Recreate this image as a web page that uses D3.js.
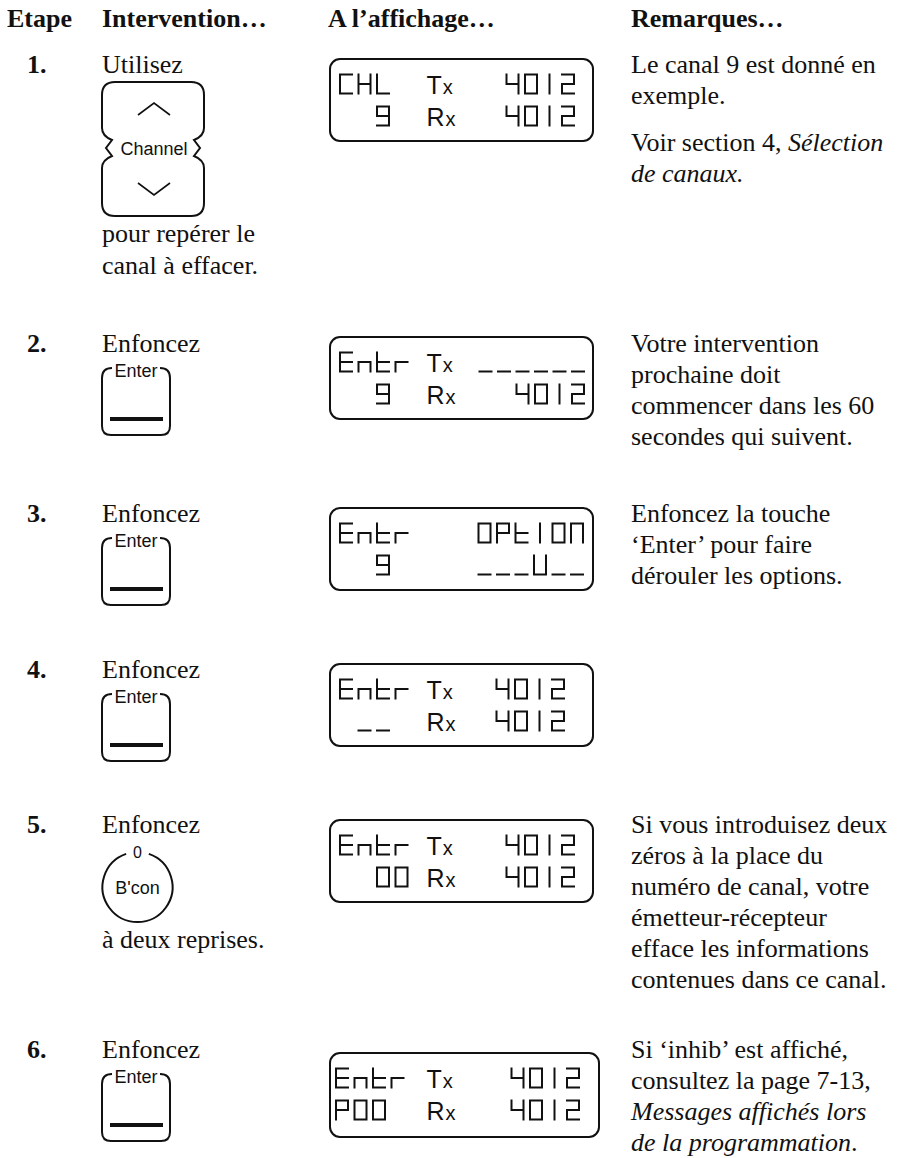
<!DOCTYPE html>
<html><head><meta charset="utf-8">
<script src="https://cdn.jsdelivr.net/npm/d3@7"></script>
<style>html,body{margin:0;padding:0;background:#fff}svg{display:block}</style>
</head><body>
<svg id="c" width="903" height="1158"></svg>
<script>
// ---------- DATA ----------
const headers = ["Etape", "Intervention…", "A l’affichage…", "Remarques…"];
const steps = ["1.", "2.", "3.", "4.", "5.", "6."];
const actionVerb = ["Utilisez", "Enfoncez", "Enfoncez", "Enfoncez", "Enfoncez", "Enfoncez"];
const keyType = ["channel", "enter", "enter", "enter", "bcon", "enter"];
const keyLabelChannel = "Channel";
const keyLabelEnter = "Enter";
const keyLabelBconTop = "0";
const keyLabelBcon = "B'con";
const actionAfter = [["pour repérer le", "canal à effacer."], [], [], [], ["à deux reprises."], []];
const lcdRow1 = ["CHL  Tx  4012", "Entr Tx______", "Entr   OPtION", "Entr Tx  4012", "Entr Tx  4012", "Entr Tx  4012"];
const lcdRow2 = ["  9  Rx  4012", "  9  Rx  4012", "  9    ___U__", " __  Rx  4012", "  00 Rx  4012", "P00  Rx  4012"];
const remarks = [
  ["Le canal 9 est donné en", "exemple.", "", "Voir section 4, _Sélection_", "_de canaux._"],
  ["Votre intervention", "prochaine doit", "commencer dans les 60", "secondes qui suivent."],
  ["Enfoncez la touche", "‘Enter’ pour faire", "dérouler les options."],
  [],
  ["Si vous introduisez deux", "zéros à la place du", "numéro de canal, votre", "émetteur-récepteur", "efface les informations", "contenues dans ce canal."],
  ["Si ‘inhib’ est affiché,", "consultez la page 7-13,", "_Messages affichés lors_", "_de la programmation_."]
];
// 7-segment map of the LCD glyphs
const segMap = {"0":"abcdef","O":"abcdef","1":"I","I":"I","2":"abged","4":"fgbc","9":"abcdfg",
  "C":"afed","H":"fbgec","L":"fed","E":"afged","n":"gec","t":"fged","r":"ge","P":"abfge",
  "N":"abcef","U":"bcdef","_":"d"};

// ---------- LAYOUT ----------
const W = 903, H = 1158;
const serif = "'Liberation Serif','Times New Roman',serif";
const sans = "'Liberation Sans',Arial,sans-serif";
const ink = "#111";
const colX = d3.scaleOrdinal().domain(headers).range([7, 102, 328, 631]);
const stepY = d3.scaleOrdinal().domain(steps).range([73, 352, 522, 678, 833, 1058]);
const lineH = 31.0;
const lcdDy = [-14, -15, -14, -14, -13, -5];
const lcdW = [263, 263, 263, 263, 263, 269];
const lcdH = [82, 82, 82, 82, 82, 84];
const shiftL = [0, 0, 0, 0, 0, -4];
const shiftR = [0, 10, 9, -10, 0, 5];
const lcdCol = d3.scaleLinear().domain([0, 12]).range([0, 12 * 18.5]);
const gw = 12, gh = 19;

const svg = d3.select("#c");
svg.append("rect").attr("width", W).attr("height", H).attr("fill", "#fff");

// headers
svg.selectAll("text.hdr").data(headers).join("text").attr("class", "hdr")
  .attr("x", d => colX(d)).attr("y", 27)
  .attr("font-family", serif).attr("font-weight", "bold").attr("font-size", 26).attr("fill", ink)
  .text(d => d);

function richText(sel, str) {
  const parts = str.split("_");
  parts.forEach((p, i) => {
    if (!p) return;
    sel.append("tspan").attr("font-style", i % 2 ? "italic" : "normal").text(p);
  });
}

function drawGlyph(g, ch, x, y, h) {
  const s = segMap[ch];
  if (!s) return;
  const p = d3.path();
  const segs = {
    a: [[0, 0], [gw, 0]], b: [[gw, 0], [gw, h / 2]], c: [[gw, h / 2], [gw, h]],
    d: [[0, h], [gw, h]], e: [[0, h / 2], [0, h]], f: [[0, 0], [0, h / 2]],
    g: [[0, h / 2], [gw, h / 2]], I: [[gw / 2, 0], [gw / 2, h]]
  };
  for (const k of s) {
    const [[x1, y1], [x2, y2]] = segs[k];
    p.moveTo(x + x1, y + y1); p.lineTo(x + x2, y + y2);
  }
  g.append("path").attr("d", p.toString()).attr("fill", "none").attr("stroke", ink)
    .attr("stroke-width", 2).attr("stroke-linecap", "square");
}

function drawLcdRow(g, str, x0, top, i) {
  for (let c = 0; c < str.length; c++) {
    const ch = str[c];
    if ((ch === "T" || ch === "R") && str[c + 1] === "x") {
      const t = g.append("text").attr("x", x0 + lcdCol(c) - 6).attr("y", top + gh)
        .attr("font-family", "'Liberation Sans Narrow','Liberation Sans',Arial,sans-serif")
        .attr("font-size", 25).attr("fill", ink);
      t.append("tspan").text(ch);
      t.append("tspan").attr("font-size", 20).attr("dx", 1).text("x");
      c++;
      continue;
    }
    const sx = c >= 7 ? shiftR[i] : (c <= 4 ? shiftL[i] : 0);
    drawGlyph(g, ch, x0 + lcdCol(c) + sx, top, gh);
  }
}

steps.forEach((s, i) => {
  const b = stepY(s);
  const g = svg.append("g");
  // step number
  g.append("text").attr("x", 27).attr("y", b).attr("font-family", serif).attr("font-weight", "bold")
    .attr("font-size", 26).attr("fill", ink).text(s);
  // verb
  g.append("text").attr("x", 102).attr("y", b).attr("font-family", serif)
    .attr("font-size", 26).attr("fill", ink).text(actionVerb[i]);

  // key
  let keyBottom;
  const kx = 102;
  if (keyType[i] === "channel") {
    const kw = 102, kh = 134, top = b + 9, r = 13, m = 66;
    const P = (x, y) => `${kx + x},${top + y}`;
    const d = `M${P(r, 0)} H${kx + kw - r} Q${P(kw, 0)} ${P(kw, r)} V${top + 46} Q${P(kw, 54)} ${P(kw - 10, 58)} L${P(kw - 4, m)} L${P(kw - 10, 74)} Q${P(kw, 78)} ${P(kw, 86)} V${top + kh - r} Q${P(kw, kh)} ${P(kw - r, kh)} H${kx + r} Q${P(0, kh)} ${P(0, kh - r)} V${top + 86} Q${P(0, 78)} ${P(10, 74)} L${P(4, m)} L${P(10, 58)} Q${P(0, 54)} ${P(0, 46)} V${top + r} Q${P(0, 0)} ${P(r, 0)} Z`;
    g.append("path").attr("d", d).attr("fill", "none").attr("stroke", ink).attr("stroke-width", 2);
    const cx = kw / 2 + 1;
    g.append("path").attr("d", `M${P(cx - 16, 33)} L${P(cx, 21)} L${P(cx + 16, 33)}`)
      .attr("fill", "none").attr("stroke", ink).attr("stroke-width", 1.6);
    g.append("path").attr("d", `M${P(cx - 16, 101)} L${P(cx, 113)} L${P(cx + 16, 101)}`)
      .attr("fill", "none").attr("stroke", ink).attr("stroke-width", 1.6);
    g.append("text").attr("x", kx + kw / 2 + 1).attr("y", top + 72.5).attr("text-anchor", "middle")
      .attr("font-family", sans).attr("font-size", 18).attr("fill", ink).text(keyLabelChannel);
    keyBottom = top + kh;
  } else if (keyType[i] === "enter") {
    const t = b + 16, bot = b + 83, L = kx, R = 170, rr = 9;
    const d = `M112,${t} Q${L},${t} ${L},${t + 10} V${bot - rr} Q${L},${bot} ${L + rr},${bot} H${R - rr} Q${R},${bot} ${R},${bot - rr} V${t + 10} Q${R},${t} ${R - 10},${t}`;
    g.append("path").attr("d", d).attr("fill", "none").attr("stroke", ink).attr("stroke-width", 2);
    g.append("text").attr("x", (L + R) / 2).attr("y", t + 8.5).attr("text-anchor", "middle")
      .attr("font-family", sans).attr("font-size", 18).attr("fill", ink).text(keyLabelEnter);
    g.append("line").attr("x1", 110).attr("x2", 163).attr("y1", b + 67).attr("y2", b + 67)
      .attr("stroke", ink).attr("stroke-width", 4);
    keyBottom = bot;
  } else {
    const cx = 137.5, cy = b + 54, r = 35, gap = 0.33;
    const p = d3.path();
    const a0 = -Math.PI / 2 + gap, a1 = -Math.PI / 2 - gap + 2 * Math.PI;
    p.moveTo(cx + r * Math.cos(a0), cy + r * Math.sin(a0));
    p.arc(cx, cy, r, a0, a1);
    g.append("path").attr("d", p.toString()).attr("fill", "none").attr("stroke", ink).attr("stroke-width", 2);
    g.append("text").attr("x", cx).attr("y", cy - r + 6).attr("text-anchor", "middle")
      .attr("font-family", sans).attr("font-size", 16).attr("fill", ink).text(keyLabelBconTop);
    g.append("text").attr("x", cx).attr("y", cy + 6.5).attr("text-anchor", "middle")
      .attr("font-family", sans).attr("font-size", 18).attr("fill", ink).text(keyLabelBcon);
    keyBottom = cy + r;
  }
  actionAfter[i].forEach((ln, k) => {
    g.append("text").attr("x", 102).attr("y", keyBottom + 26 + k * 32).attr("font-family", serif)
      .attr("font-size", 26).attr("fill", ink).text(ln);
  });

  // LCD display
  const bx = 330, by = b + lcdDy[i];
  g.append("rect").attr("x", bx).attr("y", by).attr("width", lcdW[i]).attr("height", lcdH[i])
    .attr("rx", 10).attr("ry", 10).attr("fill", "none").attr("stroke", ink).attr("stroke-width", 2);
  drawLcdRow(g, lcdRow1[i], bx + 10, by + 15.5, i);
  drawLcdRow(g, lcdRow2[i], bx + 10, by + 47.5, i);

  // remarks
  let y = b;
  remarks[i].forEach(ln => {
    if (ln === "") { y += lineH * 0.5; return; }
    const t = g.append("text").attr("x", 631).attr("y", y).attr("font-family", serif)
      .attr("font-size", 26).attr("fill", ink);
    richText(t, ln);
    y += lineH;
  });
});
</script>
</body></html>
